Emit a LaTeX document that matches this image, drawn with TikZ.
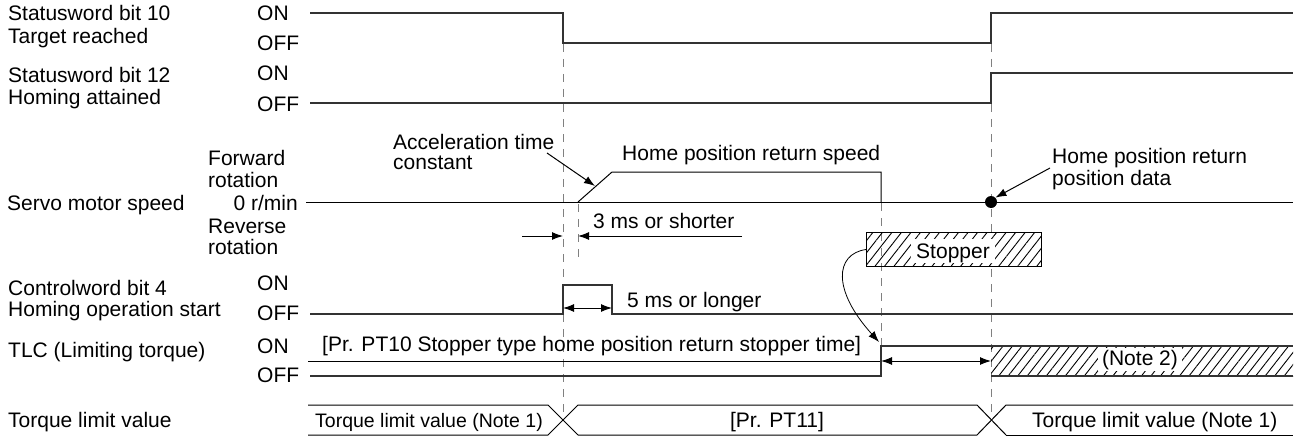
\documentclass[tikz,border=0pt]{standalone}
\usepackage{fontspec}
\setmainfont{Liberation Sans}
\usetikzlibrary{arrows.meta,patterns.meta}
\begin{document}
\begin{tikzpicture}[x=1pt,y=-1pt,
  lbl/.style={inner sep=0pt, anchor=base west, font=\fontsize{21}{23}\selectfont},
  lblc/.style={inner sep=0pt, anchor=base, font=\fontsize{21}{23}\selectfont},
  lble/.style={inner sep=0pt, anchor=base east, font=\fontsize{21}{23}\selectfont},
  small/.style={inner sep=0pt, anchor=base west, font=\fontsize{19.5}{21}\selectfont},
  sig/.style={line width=1.3pt, draw=black!80},
  thinl/.style={line width=1pt, draw=black},
  dashline/.style={line width=1pt, draw=black!50, dash pattern=on 8pt off 7pt},
  tip/.style={-{Latex[length=11pt,width=8pt]}},
  tips/.style={{Latex[length=11pt,width=8pt]}-{Latex[length=11pt,width=8pt]}},
  hatchp/.style={pattern={Lines[angle=52,distance=7.5pt,line width=0.9pt]}},
]
\useasboundingbox (0,0) rectangle (1294,436);

% dashed guide lines
\draw[dashline] (563,44) -- (563,420);
\draw[dashline] (991,44) -- (991,420);
\draw[dashline] (881,203) -- (881,346);
\draw[dashline] (578,204) -- (578,258);

% ---- Statusword bit 10
\node[lbl] (s10a) at (8,21) {Statusword bit 10};
\node[lbl] (s10b) at (8,44) {Target reached};
\node[lbl] (s10on) at (257,21) {ON};
\node[lbl] (s10off) at (257,51) {OFF};
\draw[sig] (310,13) -- (563,13) -- (563,43) -- (991,43) -- (991,13) -- (1293,13);

% ---- Statusword bit 12
\node[lbl] (s12a) at (8,83) {Statusword bit 12};
\node[lbl] (s12b) at (8,105) {Homing attained};
\node[lbl] (s12on) at (257,81) {ON};
\node[lbl] (s12off) at (257,111) {OFF};
\draw[sig] (310,103) -- (991,103) -- (991,73) -- (1293,73);

% ---- Servo motor speed
\node[lbl] (spd) at (7,210) {Servo motor speed};
\node[lbl] (fw1) at (208,165) {Forward};
\node[lbl] (fw2) at (208,187) {rotation};
\node[lble] (zero) at (298,210) {0 r/min};
\node[lbl] (rv1) at (208,233) {Reverse};
\node[lbl] (rv2) at (208,254) {rotation};
\draw[thinl] (306,202) -- (1293,202);
\draw[thinl] (578,202) -- (612,172) -- (881,172) -- (881,202);
\coordinate (ramp) at (595,186);
\node[lbl] (acc1) at (393,149) {Acceleration time};
\node[lbl] (acc2) at (393,169) {constant};
\coordinate (accs) at (547,153);
\draw[thinl,tip] (accs) -- (ramp);
\node[lbl] (hprs) at (622,160) {Home position return speed};
\node[circle, fill=black, inner sep=0pt, minimum size=12pt] (dot) at (991,202) {};
\node[lbl] (hpd1) at (1052,163) {Home position return};
\node[lbl] (hpd2) at (1052,185) {position data};
\coordinate (hpds) at (1050,168);
\draw[thinl,tip] (hpds) -- (dot.north east);

% 3 ms dimension
\coordinate (d3a) at (522,236);
\coordinate (d3b) at (563,236);
\coordinate (d3c) at (578,236);
\coordinate (d3d) at (742,236);
\draw[thinl,tip] (d3a) -- (d3b);
\draw[thinl,tip] (d3d) -- (d3c);
\node[lbl] (t3) at (593,228) {3 ms or shorter};

% stopper
\path[hatchp] (866,232) rectangle (1041,266);
\node[draw=black, line width=1pt, minimum width=175pt, minimum height=34pt, inner sep=0pt, anchor=north west] (stop) at (866,232) {};
\node[fill=white, inner xsep=5pt, inner ysep=0pt, text height=19pt, text depth=5pt, font=\fontsize{21}{23}\selectfont] (stopt) at (953,251) {Stopper};

% ---- Controlword bit 4
\node[lbl] (cw1) at (8,295) {Controlword bit 4};
\node[lbl] (cw2) at (8,316) {Homing operation start};
\node[lbl] (cwon) at (257,290) {ON};
\node[lbl] (cwoff) at (257,320) {OFF};
\draw[sig] (310,314) -- (563,314) -- (563,285) -- (612,285) -- (612,314) -- (1293,314);
\coordinate (d5a) at (563,308);
\coordinate (d5b) at (612,308);
\draw[thinl,tips] (d5a) -- (d5b);
\node[lbl] (t5) at (627,307) {5 ms or longer};

% ---- TLC
\node[lbl] (tlc) at (8,357) {TLC (Limiting torque)};
\node[lbl] (tlcon) at (257,353) {ON};
\node[lbl] (tlcoff) at (257,382) {OFF};
\node[lbl] (pt10) at (322,351) {[Pr. PT10 Stopper type home position return stopper time]};
\draw[thinl] (308,361) -- (881,361);
\path[hatchp] (991,346) rectangle (1293,376);
\draw[sig] (310,376) -- (881,376) -- (881,346) -- (1293,346);
\draw[sig] (991,376) -- (1293,376);
\node[fill=white, inner xsep=4pt, inner ysep=0pt, text height=18pt, text depth=5pt, font=\fontsize{21}{23}\selectfont] (n2) at (1140,359) {(Note 2)};
\coordinate (dta) at (881,361);
\coordinate (dtb) at (991,361);
\draw[thinl,tips] (dta) -- (dtb);
\coordinate (cend) at (879,342);
\draw[line width=0.8pt,tip] (stop.west) .. controls (835,254) and (832,290) .. (cend);

% ---- Torque limit value
\node[lbl] (tlv) at (8,427) {Torque limit value};
\draw[thinl] (308,405) -- (548,405) -- (578,435);
\draw[thinl] (308,435) -- (548,435) -- (578,405) -- (977,405) -- (1006,435);
\draw[thinl] (578,435) -- (977,435) -- (1006,405) -- (1293,405);
\draw[thinl] (1006,435) -- (1293,435);
\node[small] (tlv1) at (315,427) {Torque limit value (Note 1)};
\node[lblc] (pt11) at (777,427) {[Pr. PT11]};
\node[lbl] (tlv2) at (1032,427) {Torque limit value (Note 1)};
\end{tikzpicture}
\end{document}
